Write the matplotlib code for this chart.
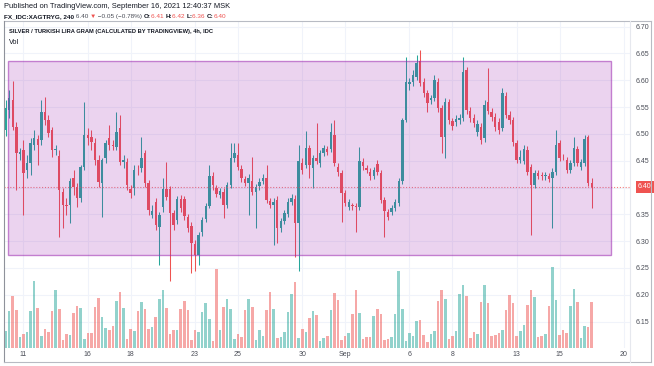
import matplotlib
matplotlib.use("Agg")
import matplotlib.pyplot as plt
from matplotlib.patches import Rectangle
from matplotlib.lines import Line2D
from matplotlib.transforms import blended_transform_factory
import numpy as np

FONT = ["Liberation Sans", "DejaVu Sans"]
plt.rcParams["font.family"] = FONT

# ---------------- data (4h candles, Aug 10 - Sep 16 2021) ----------------
open_ = [6.507, 6.545, 6.563, 6.513, 6.463, 6.470, 6.433, 6.446, 6.479, 6.491,
         6.489, 6.541, 6.526, 6.507, 6.470, 6.459, 6.392, 6.367, 6.367, 6.418,
         6.401, 6.381, 6.438, 6.498, 6.494, 6.483, 6.451, 6.409, 6.455, 6.493,
         6.479, 6.476, 6.511, 6.448, 6.448, 6.397, 6.399, 6.433, 6.437, 6.465,
         6.409, 6.349, 6.373, 6.326, 6.364, 6.397, 6.397, 6.353, 6.340, 6.379,
         6.379, 6.345, 6.328, 6.295, 6.274, 6.317, 6.341, 6.366, 6.422, 6.399,
         6.386, 6.392, 6.367, 6.405, 6.455, 6.461, 6.435, 6.416, 6.409, 6.412,
         6.392, 6.403, 6.412, 6.418, 6.375, 6.367, 6.377, 6.325, 6.337, 6.351,
         6.373, 6.379, 6.334, 6.446, 6.442, 6.474, 6.437, 6.455, 6.446, 6.465,
         6.472, 6.472, 6.498, 6.438, 6.427, 6.390, 6.364, 6.366, 6.366, 6.364,
         6.448, 6.437, 6.429, 6.422, 6.444, 6.427, 6.377, 6.354, 6.354, 6.362,
         6.371, 6.412, 6.526, 6.593, 6.597, 6.606, 6.636, 6.597, 6.576, 6.563,
         6.567, 6.597, 6.548, 6.494, 6.560, 6.524, 6.522, 6.526, 6.530, 6.619,
         6.543, 6.530, 6.504, 6.513, 6.493, 6.560, 6.541, 6.532, 6.522, 6.511,
         6.571, 6.535, 6.526, 6.483, 6.451, 6.450, 6.470, 6.438, 6.405, 6.427,
         6.422, 6.421, 6.422, 6.418, 6.429, 6.483, 6.457, 6.451, 6.433, 6.446,
         6.472, 6.438, 6.446, 6.494, 6.409]
high = [6.563, 6.582, 6.599, 6.522, 6.474, 6.489, 6.461, 6.493, 6.507, 6.498,
        6.563, 6.569, 6.535, 6.513, 6.479, 6.470, 6.399, 6.381, 6.418, 6.433,
        6.409, 6.442, 6.560, 6.511, 6.507, 6.493, 6.461, 6.455, 6.489, 6.517,
        6.489, 6.541, 6.535, 6.461, 6.455, 6.405, 6.442, 6.442, 6.494, 6.470,
        6.414, 6.367, 6.381, 6.354, 6.418, 6.448, 6.403, 6.358, 6.384, 6.386,
        6.384, 6.351, 6.336, 6.302, 6.317, 6.345, 6.371, 6.442, 6.429, 6.405,
        6.399, 6.399, 6.410, 6.483, 6.483, 6.483, 6.442, 6.422, 6.425, 6.457,
        6.407, 6.418, 6.425, 6.442, 6.381, 6.381, 6.384, 6.343, 6.358, 6.381,
        6.388, 6.386, 6.479, 6.455, 6.506, 6.479, 6.461, 6.520, 6.470, 6.479,
        6.478, 6.520, 6.526, 6.446, 6.433, 6.395, 6.379, 6.371, 6.371, 6.476,
        6.455, 6.442, 6.437, 6.438, 6.451, 6.433, 6.382, 6.360, 6.367, 6.379,
        6.418, 6.530, 6.644, 6.604, 6.619, 6.647, 6.657, 6.604, 6.582, 6.573,
        6.610, 6.604, 6.554, 6.567, 6.565, 6.530, 6.535, 6.537, 6.644, 6.625,
        6.550, 6.537, 6.526, 6.520, 6.563, 6.623, 6.548, 6.539, 6.530, 6.586,
        6.578, 6.543, 6.532, 6.489, 6.470, 6.479, 6.478, 6.444, 6.433, 6.433,
        6.429, 6.429, 6.427, 6.437, 6.507, 6.489, 6.463, 6.457, 6.451, 6.494,
        6.478, 6.453, 6.498, 6.498, 6.418]
low = [6.496, 6.530, 6.507, 6.395, 6.451, 6.349, 6.418, 6.423, 6.470, 6.442,
       6.479, 6.517, 6.494, 6.457, 6.461, 6.308, 6.325, 6.349, 6.334, 6.386,
       6.364, 6.373, 6.433, 6.479, 6.470, 6.442, 6.401, 6.345, 6.446, 6.470,
       6.470, 6.470, 6.442, 6.437, 6.395, 6.381, 6.386, 6.423, 6.429, 6.401,
       6.349, 6.343, 6.321, 6.256, 6.354, 6.377, 6.225, 6.321, 6.332, 6.354,
       6.340, 6.317, 6.240, 6.245, 6.256, 6.310, 6.336, 6.362, 6.395, 6.382,
       6.381, 6.343, 6.362, 6.399, 6.448, 6.433, 6.410, 6.403, 6.349, 6.386,
       6.325, 6.395, 6.407, 6.371, 6.362, 6.293, 6.297, 6.317, 6.332, 6.345,
       6.367, 6.270, 6.245, 6.425, 6.437, 6.418, 6.399, 6.444, 6.438, 6.459,
       6.461, 6.466, 6.440, 6.422, 6.336, 6.366, 6.358, 6.358, 6.317, 6.358,
       6.433, 6.427, 6.414, 6.416, 6.423, 6.371, 6.308, 6.340, 6.349, 6.356,
       6.366, 6.407, 6.522, 6.582, 6.590, 6.601, 6.590, 6.569, 6.541, 6.556,
       6.562, 6.541, 6.465, 6.455, 6.519, 6.507, 6.515, 6.519, 6.524, 6.537,
       6.522, 6.513, 6.496, 6.481, 6.485, 6.537, 6.524, 6.506, 6.500, 6.506,
       6.530, 6.519, 6.478, 6.446, 6.446, 6.444, 6.423, 6.312, 6.399, 6.416,
       6.414, 6.414, 6.410, 6.325, 6.423, 6.450, 6.451, 6.427, 6.427, 6.440,
       6.440, 6.433, 6.440, 6.403, 6.362]
close = [6.548, 6.567, 6.513, 6.465, 6.466, 6.427, 6.446, 6.483, 6.493, 6.479,
         6.541, 6.526, 6.502, 6.470, 6.472, 6.395, 6.367, 6.366, 6.412, 6.401,
         6.381, 6.438, 6.498, 6.493, 6.485, 6.451, 6.410, 6.451, 6.483, 6.479,
         6.478, 6.504, 6.448, 6.451, 6.405, 6.390, 6.433, 6.432, 6.455, 6.409,
         6.358, 6.356, 6.330, 6.349, 6.397, 6.382, 6.353, 6.330, 6.379, 6.362,
         6.347, 6.325, 6.297, 6.274, 6.312, 6.340, 6.366, 6.422, 6.405, 6.388,
         6.394, 6.367, 6.405, 6.455, 6.465, 6.438, 6.418, 6.409, 6.418, 6.392,
         6.401, 6.410, 6.418, 6.377, 6.367, 6.373, 6.325, 6.337, 6.353, 6.373,
         6.381, 6.334, 6.450, 6.433, 6.474, 6.442, 6.455, 6.450, 6.465, 6.474,
         6.466, 6.504, 6.446, 6.429, 6.390, 6.371, 6.373, 6.365, 6.364, 6.450,
         6.440, 6.433, 6.422, 6.433, 6.429, 6.377, 6.356, 6.345, 6.362, 6.373,
         6.412, 6.526, 6.597, 6.597, 6.610, 6.632, 6.595, 6.576, 6.558, 6.567,
         6.601, 6.548, 6.494, 6.560, 6.526, 6.515, 6.528, 6.530, 6.616, 6.545,
         6.530, 6.520, 6.519, 6.489, 6.554, 6.543, 6.532, 6.513, 6.507, 6.576,
         6.535, 6.526, 6.485, 6.451, 6.457, 6.472, 6.429, 6.405, 6.427, 6.422,
         6.421, 6.422, 6.416, 6.429, 6.479, 6.455, 6.456, 6.433, 6.446, 6.474,
         6.446, 6.448, 6.491, 6.409, 6.401]
volume = [17, 37, 52, 38, 11, 14, 16, 37, 67, 40, 12, 19, 16, 37, 58, 39, 8, 14, 13, 35,
          42, 40, 9, 15, 15, 41, 50, 31, 20, 18, 22, 47, 56, 40, 9, 19, 17, 37, 46, 39,
          19, 21, 31, 49, 58, 40, 14, 18, 18, 39, 47, 38, 8, 18, 16, 36, 45, 29, 7, 79,
          18, 41, 49, 39, 9, 14, 11, 38, 49, 41, 8, 18, 12, 38, 56, 39, 10, 11, 16, 36,
          54, 66, 10, 19, 16, 30, 37, 33, 7, 10, 12,
          38, 55, 48, 8, 12, 15, 34, 58, 35, 9, 11, 11, 32, 39, 34, 8, 9, 11, 34, 77,
          39, 7, 15, 12, 27, 28, 13, 6, 14, 17, 47, 58, 49, 9, 12, 17, 54, 63, 52, 10,
          16, 14, 46, 63, 45, 12, 13, 15, 18, 38, 53, 45, 12, 17, 23, 43, 58, 51, 11, 12,
          14, 42, 81, 48, 13, 18, 15, 42, 59, 46, 10, 22, 21, 46]

day_ticks = [5, 23, 35, 53, 65, 83, 95, 113, 125, 143, 155, 173]
day_labels = ["11", "16", "18", "23", "25", "30", "Sep", "6", "8", "13", "15", "20"]
price_ticks = [6.15, 6.20, 6.25, 6.30, 6.35, 6.40, 6.45, 6.50, 6.55, 6.60, 6.65, 6.70]

# rectangle drawing (time index, price)
rect_t0, rect_t1 = 0.67, 169.3
rect_p0, rect_p1 = 6.274, 6.636

UP = "#26a69a"
DOWN = "#ef5350"
TXT = "#131722"

# ---------------- figure ----------------
W, H = 654, 366
fig = plt.figure(figsize=(W / 100, H / 100), dpi=100)
fig.patch.set_facecolor("white")

L, R, T, B = 4, 630, 21, 348
ax = fig.add_axes([L / W, 1 - B / H, (R - L) / W, (B - T) / H])
ax.set_facecolor("white")

o = np.array(open_); h = np.array(high); lo = np.array(low); c = np.array(close)
v = np.array(volume, dtype=float)
idx = np.arange(len(c))
up = c >= o
cols = np.where(up, UP, DOWN)
vcols = [(0.149, 0.651, 0.604, 0.5) if u else (0.937, 0.325, 0.314, 0.5) for u in up]

ax.set_xlim(-0.45, 174.7)
ax.set_ylim(6.1006, 6.7106)

# grid
for t in day_ticks:
    ax.axvline(t, color="#f0f3fa", lw=0.8, zorder=0)
for p in price_ticks:
    ax.axhline(p, color="#f0f3fa", lw=0.8, zorder=0)

# volume (bottom quarter of the pane)
vol_tr = blended_transform_factory(ax.transData, ax.transAxes)
vol_top = v.max() / 0.248
ax.bar(idx, v / vol_top, width=0.72, bottom=0, color=vcols, linewidth=0,
       transform=vol_tr, zorder=1)

# candles
ax.vlines(idx, lo, h, colors=cols, linewidth=0.75, zorder=3)
body_b = np.minimum(o, c)
body_h = np.maximum(np.abs(c - o), 0.0015)
ax.bar(idx, body_h, bottom=body_b, width=0.68, color=cols, linewidth=0, zorder=4)

# last price line
ax.axhline(c[-1], color=DOWN, lw=0.8, ls=(0, (1, 1.6)), alpha=0.75, zorder=5)

# rectangle drawing
ax.add_patch(Rectangle((rect_t0, rect_p0), rect_t1 - rect_t0, rect_p1 - rect_p0,
                       facecolor=(0.612, 0.153, 0.690, 0.2),
                       edgecolor=(0.612, 0.153, 0.690, 0.55), linewidth=1.0, zorder=6))

for s in ax.spines.values():
    s.set_visible(False)

ax.yaxis.tick_right()
ax.set_yticks(price_ticks)
# the tick at the last price is covered by the last-price label
ax.set_yticklabels(["" if abs(p - round(c[-1], 2)) < 1e-9 else f"{p:.2f}" for p in price_ticks])
ax.tick_params(axis="y", length=0, pad=4, labelsize=5, labelcolor="#4a4d57")
ax.set_xticks(day_ticks)
ax.set_xticklabels(day_labels)
ax.tick_params(axis="x", length=0, pad=2.5, labelsize=5, labelcolor="#4a4d57")

# last price label
lbl_tr = blended_transform_factory(ax.transAxes, ax.transData)
ax.text(1 + 8 / (R - L), c[-1], f"{c[-1]:.2f}", transform=lbl_tr, color="white",
        fontsize=5, va="center", ha="left", zorder=10, clip_on=False,
        bbox=dict(boxstyle="square,pad=0.35", fc=DOWN, ec="none"))

# frame / scale borders
def fig_line(x0, y0, x1, y1, color, lw=0.8):
    fig.add_artist(Line2D([x0 / W, x1 / W], [1 - y0 / H, 1 - y1 / H],
                          transform=fig.transFigure, color=color, lw=lw))

fig_line(4, 21, 651, 21, "#b8bbc3")
fig_line(4, 21, 4, 362, "#8f929b")
fig_line(651, 21, 651, 362, "#b8bbc3")
fig_line(4, 362, 651, 362, "#b8bbc3")
fig_line(630, 21, 630, 362, "#e6e8ee")

# ---------------- texts ----------------
renderer = fig.canvas.get_renderer()

def draw_segments(x_px, y_px, segments, target_w):
    def place(size, keep):
        x = x_px
        arts = []
        for txt, color, weight in segments:
            t = fig.text(x / W, 1 - y_px / H, txt, color=color, fontsize=size,
                         fontweight=weight, va="center", ha="left")
            bb = t.get_window_extent(renderer=renderer)
            x = bb.x1
            arts.append(t)
        if not keep:
            for a in arts:
                a.remove()
        return x - x_px
    w10 = place(10, False)
    place(10 * target_w / w10, True)

draw_segments(4, 6.5, [("Published on TradingView.com, September 16, 2021 12:40:37 MSK", TXT, "normal")], 223)
draw_segments(4, 16.5, [("FX_IDC:XAGTRYG, 240", TXT, "bold"),
                        (" 6.40 ", "#4a4d57", "normal"),
                        ("\u25bc", DOWN, "normal"),
                        (" \u22120.05 (\u22120.78%) ", "#4a4d57", "normal"),
                        ("O:", TXT, "bold"), ("6.41 ", DOWN, "normal"),
                        ("H:", TXT, "bold"), ("6.42 ", DOWN, "normal"),
                        ("L:", TXT, "bold"), ("6.36 ", DOWN, "normal"),
                        ("C:", TXT, "bold"), ("6.40", DOWN, "normal")], 224)
draw_segments(9, 32, [("SILVER / TURKISH LIRA GRAM (CALCULATED BY TRADINGVIEW), 4h, IDC", TXT, "bold")], 202)
fig.text(9 / W, 1 - 42 / H, "Vol", color=TXT, fontsize=5.2, va="center", ha="left")

fig.savefig("out.png", dpi=100, facecolor="white")
